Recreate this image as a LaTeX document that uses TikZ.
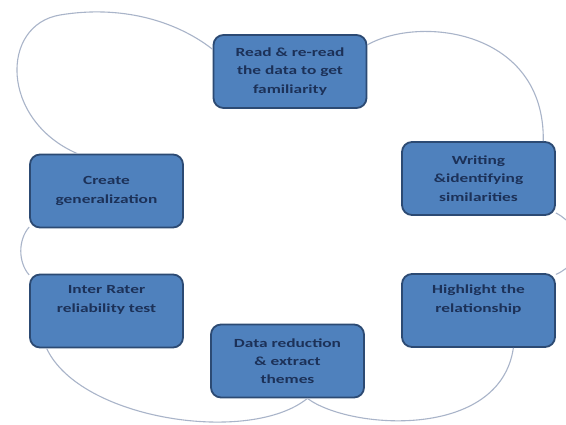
\documentclass[tikz,border=0pt]{standalone}
\usepackage{fontspec}
\setmainfont{Carlito}[FakeStretch=1.4]
\begin{document}
\definecolor{boxfill}{HTML}{4F81BD}
\definecolor{boxline}{HTML}{2C4A73}
\definecolor{boxtext}{HTML}{1C3158}
\definecolor{loopline}{HTML}{A9B4C9}
\begin{tikzpicture}[x=1pt,y=-1pt,
  stepbox/.style={draw=boxline,fill=boxfill,line width=1.8pt,rounded corners=10pt,
    minimum width=153pt,minimum height=73pt,align=center,text=boxtext,
    font=\fontsize{12.4}{18.3}\selectfont\bfseries},
  loop/.style={draw=loopline,line width=1.1pt}]
\useasboundingbox (0,0) rectangle (566,425);
\fill[white] (0,0) rectangle (566,425);

% the six steps of the cycle
\node[stepbox] (b1) at (290,71.5) {Read \& re-read\\the data to get\\familiarity};
\node[stepbox] (b2) at (478.5,178.5) {Writing\\\&identifying\\similarities};
\node[stepbox] (b3) at (106.5,191) {Create\\generalization};
\node[stepbox] (b4) at (106.5,311) {Inter Rater\\reliability test\\\strut};
\node[stepbox] (b5) at (478.5,310.5) {Highlight the\\relationship\\\strut};
\node[stepbox] (b6) at (287.5,361) {Data reduction\\\& extract\\themes};

% loops joining neighbouring steps
\draw[loop] (b1.164) .. controls (175,20) and (120,5) .. (60,15)
  .. controls (0,25) and (0,120) .. (b3.128);
\draw[loop] (b1.19) .. controls (420,15) and (545,30) .. (b2.30);
\draw[loop] (b2.-24) .. controls (585,228) and (585,262) .. (b5.25);
\draw[loop] (b3.205) .. controls (18,240) and (18,262) .. (b4.155);
\draw[loop] (b4.212) .. controls (80,420) and (250,445) .. (b6.-62);
\draw[loop] (b6.-62) .. controls (350,430) and (500,440) .. (b5.-47);
\end{tikzpicture}
\end{document}
